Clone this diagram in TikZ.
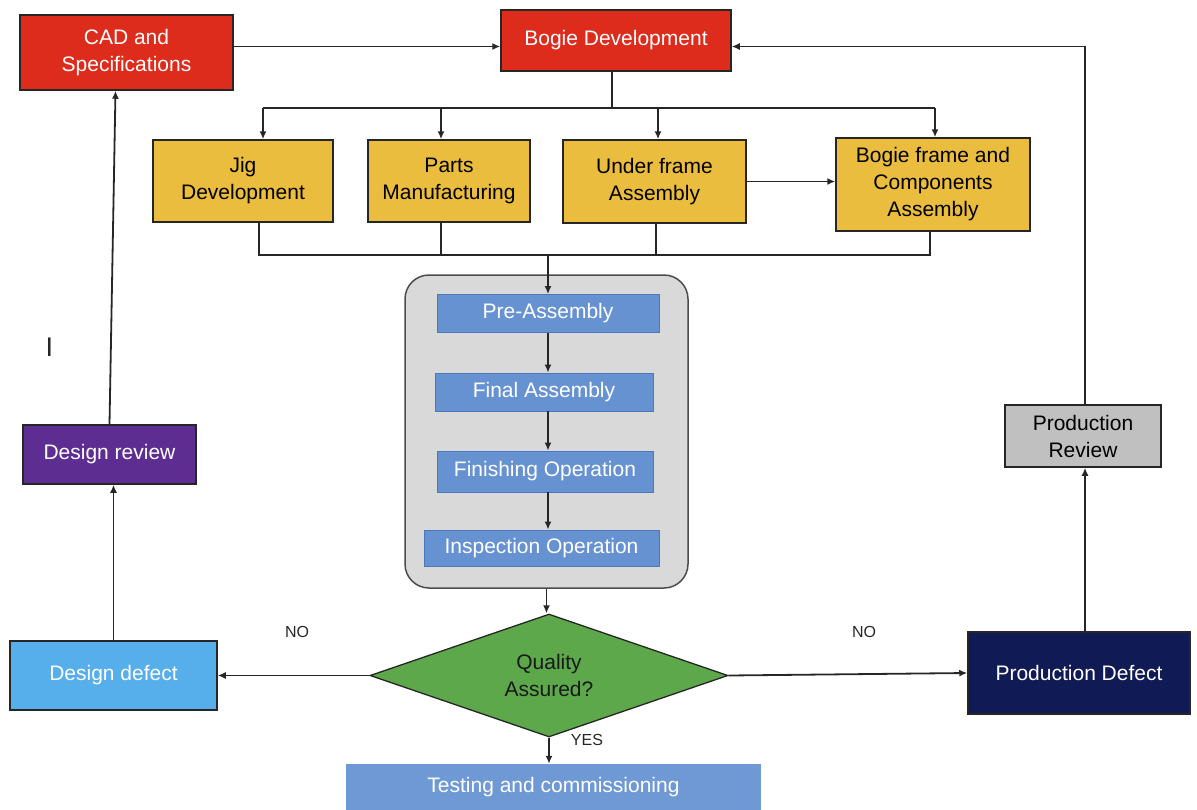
\documentclass[tikz,border=0pt]{standalone}
\usepackage{fontspec}
\setmainfont{Liberation Sans}
\usetikzlibrary{shapes.geometric,arrows.meta}
\definecolor{cred}{HTML}{DD2B1C}
\definecolor{cyel}{HTML}{EBBD3E}
\definecolor{cblue}{HTML}{6792D2}
\definecolor{cbluedark}{HTML}{4A78B8}
\definecolor{cgrey}{HTML}{D9D9D9}
\definecolor{cgreen}{HTML}{5CA84A}
\definecolor{csky}{HTML}{56AEEA}
\definecolor{cnavy}{HTML}{101B55}
\definecolor{ctest}{HTML}{6E99D4}
\definecolor{cpurple}{HTML}{5E2D92}
\definecolor{cprgrey}{HTML}{C0C0C0}
\newcommand\fsbig{\fontsize{21}{27}\selectfont}
\newcommand\fssmall{\fontsize{16}{19}\selectfont}
\tikzset{
  box/.style={draw=black!85, line width=1.5pt, align=center, inner sep=0pt, font=\fsbig},
  redbox/.style={box, fill=cred, text=white},
  yelbox/.style={box, fill=cyel, text=black},
  bluebox/.style={draw=cbluedark, line width=0.8pt, fill=cblue, text=white, align=center, inner sep=0pt, font=\fsbig},
  conn/.style={draw=black!85, line width=1.8pt},
  arr/.style={conn, -{Latex[length=8pt,width=7pt]}},
  lbl/.style={font=\fssmall, text=black!85, inner sep=0pt},
}
\begin{document}
\begin{tikzpicture}[x=1pt,y=-1pt]
\useasboundingbox (0,0) rectangle (1197,809);
% top row
\node[redbox, minimum width=213pt, minimum height=75pt] (cad) at (126.5,52.5) {CAD and\\Specifications};
\node[redbox, minimum width=230pt, minimum height=61pt] (bogie) at (616,40.5) {Bogie Development};
% yellow row
\node[yelbox, minimum width=180pt, minimum height=82pt] (jig) at (243,181) {Jig\\Development};
\node[yelbox, minimum width=162pt, minimum height=82pt] (parts) at (449,181) {Parts\\Manufacturing};
\node[yelbox, minimum width=183pt, minimum height=83pt] (under) at (654.5,181.5) {Under frame\\Assembly};
\node[yelbox, minimum width=194pt, minimum height=93pt] (bfc) at (933,184.5) {Bogie frame and\\Components\\Assembly};
% grey group
\node[draw=black!70, line width=1.5pt, fill=cgrey, rounded corners=24pt, minimum width=283pt, minimum height=313pt] (grp) at (546.5,431.5) {};
\node[bluebox, minimum width=222pt, minimum height=38pt] (pre) at (548,313.5) {Pre-Assembly};
\node[bluebox, minimum width=218pt, minimum height=38pt] (final) at (544,392) {Final Assembly};
\node[bluebox, minimum width=216pt, minimum height=41pt] (finish) at (545,471.5) {Finishing Operation};
\node[bluebox, minimum width=235pt, minimum height=36pt] (insp) at (541.5,548) {Inspection Operation};
% decision
\node[diamond, draw=black!85, line width=1.3pt, fill=cgreen, aspect=2.9, minimum width=358pt, minimum height=123pt, inner sep=0pt, align=center, font=\fsbig, text=black!90] (dia) at (549,675.5) {Quality\\Assured?};
\node[box, fill=csky, text=white, minimum width=207pt, minimum height=69pt] (dd) at (113.5,675.5) {Design defect};
\node[box, fill=cnavy, text=white, minimum width=222pt, minimum height=82pt] (pd) at (1079,673) {Production Defect};
\node[fill=ctest, text=white, align=center, inner sep=0pt, font=\fsbig, minimum width=415pt, minimum height=46pt] (test) at (553.5,787) {Testing and commissioning};
\node[box, fill=cpurple, text=white, minimum width=173pt, minimum height=59pt] (dr) at (109.5,454.5) {Design review};
\node[box, fill=cprgrey, text=black, minimum width=156pt, minimum height=62pt] (pr) at (1083,436) {Production\\Review};
% labels
\node[lbl] (no1) at (297,632) {NO};
\node[lbl] (no2) at (864,632) {NO};
\node[lbl] (yes) at (587,740) {YES};
\node[font=\fontsize{27}{30}\selectfont, text=black!85, inner sep=0pt] (stray) at (49.5,347) {I};
% connectors top
\draw[arr] ([yshift=6pt]cad.east) -- ([yshift=-6pt]bogie.west);
\coordinate (topbus) at (612,108);
\coordinate (bs) at ([xshift=-4pt]bogie.south);
\draw[conn] (bs) -- (bs |- topbus);
\coordinate (j1) at ([xshift=20pt]jig.north);
\coordinate (p1) at ([xshift=-8pt]parts.north);
\coordinate (u1) at ([xshift=3.5pt]under.north);
\coordinate (b1) at ([xshift=2pt]bfc.north);
\draw[conn] (j1 |- topbus) -- (b1 |- topbus);
\draw[arr] (j1 |- topbus) -- (j1);
\draw[arr] (p1 |- topbus) -- (p1);
\draw[arr] (u1 |- topbus) -- (u1);
\draw[arr] (b1 |- topbus) -- (b1);
\draw[arr] (under.east) -- (under.east -| bfc.west);
% bottom bus
\coordinate (botbus) at (548,255);
\coordinate (j2) at ([xshift=16pt]jig.south);
\coordinate (p2) at ([xshift=-8pt]parts.south);
\coordinate (u2) at ([xshift=1.5pt]under.south);
\coordinate (b2) at ([xshift=-3pt]bfc.south);
\draw[conn] (j2) -- (j2 |- botbus) -- (b2 |- botbus) -- (b2);
\draw[conn] (p2) -- (p2 |- botbus);
\draw[conn] (u2) -- (u2 |- botbus);
\draw[arr] (botbus) -- (pre.north);
% inner chain
\draw[arr] (pre.south) -- (pre.south |- final.north);
\draw[arr] (pre.south |- final.south) -- (pre.south |- finish.north);
\draw[arr] (pre.south |- finish.south) -- (pre.south |- insp.north);
\draw[arr] (grp.south) -- (grp.south |- dia.north);
% decision outputs
\draw[arr] (dia.west) -- (dd.east);
\draw[arr] (dia.east) -- (pd.west);
\draw[arr] (dia.south) -- (dia.south |- test.north);
% left loop
\draw[arr] (dd.north) -- (dd.north |- dr.south);
\draw[arr] (dr.north) -- ([xshift=-11pt]cad.south);
% right loop
\coordinate (pd1) at ([xshift=6pt]pd.north);
\draw[arr] (pd1) -- (pd1 |- pr.south);
\draw[arr] ([xshift=2pt]pr.north) |- ([yshift=-6pt]bogie.east);
\end{tikzpicture}
\end{document}
